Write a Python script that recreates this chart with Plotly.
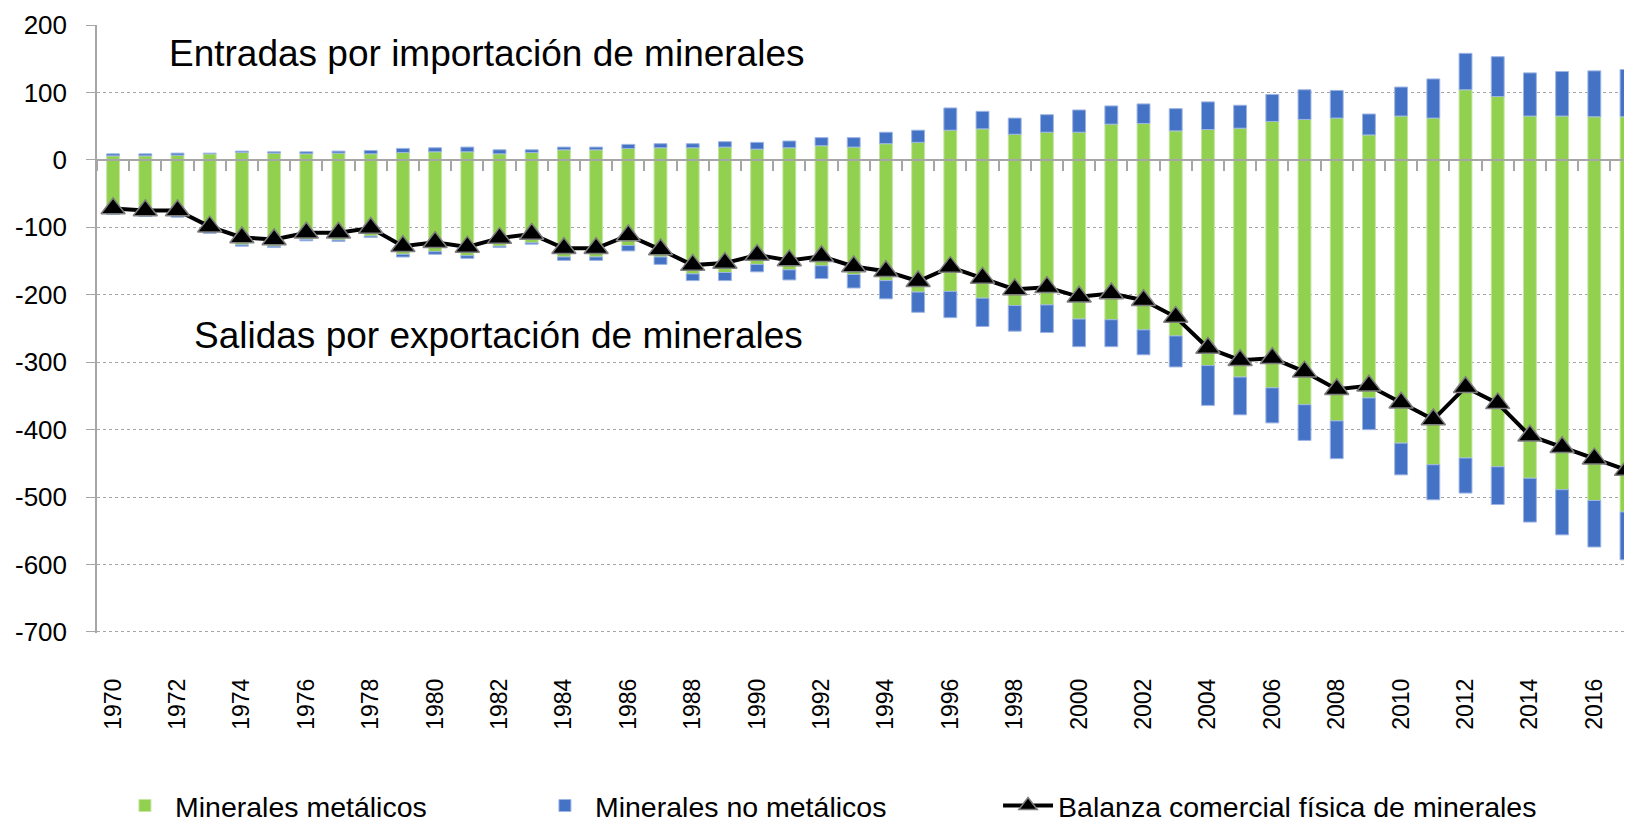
import plotly.graph_objects as go

# years 1970-2017
years = [str(y) for y in range(1970, 2018)]

# importaciones (positivas)
imp_metalicos = [6, 6, 7, 9, 11, 10, 9, 10, 9, 11, 12, 12, 9, 11, 15, 15,
                 17, 18, 18, 19, 16, 18, 21, 19, 24, 26, 44, 46, 38, 41, 41, 53,
                 54, 43, 45, 47, 57, 60, 62, 37, 65, 62, 104, 94, 65, 65, 64, 64]
imp_no_metalicos = [3, 3, 3, 1, 2, 2, 3, 3, 5, 6, 6, 7, 6, 4, 4, 4,
                    6, 6, 6, 8, 10, 10, 12, 14, 17, 18, 33, 26, 24, 26, 33, 27,
                    29, 33, 41, 34, 40, 44, 41, 31, 43, 58, 54, 59, 64, 66, 68, 70]

# exportaciones (magnitud, se dibujan negativas)
exp_metalicos = [79, 82, 83, 107, 126, 128, 118, 119, 113, 140, 136, 142, 128, 123, 144, 144,
                 127, 144, 169, 167, 155, 163, 157, 170, 179, 196, 195, 205, 216, 215, 236, 237,
                 252, 261, 305, 322, 338, 363, 387, 353, 420, 452, 442, 455, 472, 489, 505, 522]
exp_no_metalicos = [2, 2, 2, 2, 2, 2, 2, 2, 2, 4, 4, 4, 2, 2, 5, 5,
                    8, 11, 10, 12, 11, 15, 19, 20, 27, 30, 39, 42, 38, 41, 41, 40,
                    37, 46, 59, 56, 52, 53, 56, 47, 47, 52, 52, 56, 65, 67, 69, 71]

# balanza comercial fisica
balanza = [-72, -75, -75, -99, -115, -118, -108, -108, -101, -128, -122, -129, -116, -110, -131, -131,
           -112, -133, -156, -153, -141, -149, -143, -158, -165, -180, -159, -175, -192, -189, -203, -198,
           -208, -233, -279, -297, -294, -314, -340, -335, -360, -385, -337, -361, -409, -426, -443, -460]

# eje y
y_ticks = [200, 100, 0, -100, -200, -300, -400, -500, -600, -700]
y_labels = ['200', '100', '0', '-100', '-200', '-300', '-400', '-500', '-600', '-700']

VERDE = '#92D050'
AZUL = '#4472C4'
GRIS = '#A6A6A6'
ARIAL = "'Liberation Sans', Arial, sans-serif"

fig = go.Figure()
fig.add_trace(go.Bar(x=years, y=imp_metalicos, name='Minerales metálicos', legend='legend',
                     marker=dict(color=VERDE, line=dict(color='#C4E6A0', width=1))))
fig.add_trace(go.Bar(x=years, y=[-v for v in exp_metalicos], showlegend=False,
                     marker=dict(color=VERDE, line=dict(color='#C4E6A0', width=1))))
fig.add_trace(go.Bar(x=years, y=imp_no_metalicos, name='Minerales no metálicos', legend='legend2',
                     marker=dict(color=AZUL, line=dict(color='#9DB5E3', width=1))))
fig.add_trace(go.Bar(x=years, y=[-v for v in exp_no_metalicos], showlegend=False,
                     marker=dict(color=AZUL, line=dict(color='#9DB5E3', width=1))))
fig.add_trace(go.Scatter(x=years, y=balanza, mode='lines+markers', legend='legend3',
                         name='Balanza comercial física de minerales',
                         line=dict(color='black', width=4),
                         marker=dict(symbol='triangle-up', size=21, color='black',
                                     line=dict(color='#7F7F7F', width=1.5))))
# traza auxiliar para el eje en cero con marcas entre categorias
fig.add_trace(go.Scatter(x=years, y=balanza, xaxis='x2', mode='none',
                         showlegend=False, hoverinfo='skip'))

xr = [-0.5, 47.17]
y0_pos = 701.5 / 901.5
leg_font = dict(family=ARIAL, size=28.5, color='black')
leg_common = dict(orientation='h', y=-0.2845, yanchor='middle', xanchor='left',
                  font=leg_font, itemwidth=50, bgcolor='rgba(0,0,0,0)',
                  borderwidth=0)

fig.update_layout(
    width=1624, height=814,
    margin=dict(l=89, r=0, t=17, b=189, autoexpand=False),
    plot_bgcolor='white', paper_bgcolor='white',
    barmode='relative', bargap=0.6,
    font=dict(family=ARIAL, color='black'),
    xaxis=dict(type='category', categoryarray=years, range=xr,
               tickmode='array', tickvals=years[::2], tickangle=-90,
               tickfont=dict(family=ARIAL, size=23, color='black'),
               ticklabelstandoff=40, showgrid=False, showline=False, ticks='',
               automargin=False),
    xaxis2=dict(type='category', categoryarray=years, range=xr, overlaying='x',
                anchor='free', position=y0_pos, side='bottom',
                showticklabels=False, showgrid=False, showline=True,
                linecolor=GRIS, linewidth=2, ticks='outside', tickson='boundaries',
                ticklen=10, tickwidth=1.5, tickcolor=GRIS, automargin=False),
    yaxis=dict(range=[-701.5, 200], tickmode='array', tickvals=y_ticks, ticktext=y_labels,
               showgrid=True, gridcolor=GRIS, griddash='dot', gridwidth=1,
               zeroline=False, showline=True, linecolor=GRIS, linewidth=1.5,
               ticks='outside', ticklen=9, tickcolor=GRIS, ticklabelstandoff=14,
               tickfont=dict(family=ARIAL, size=26, color='black'), automargin=False),
    legend=dict(x=0.0117, **leg_common),
    legend2=dict(x=0.2853, **leg_common),
    legend3=dict(x=0.5870, **leg_common),
    annotations=[
        dict(text='Entradas por importación de minerales', xref='paper', yref='y',
             x=0.0456, y=158, xanchor='left', yanchor='middle', showarrow=False,
             font=dict(family=ARIAL, size=37, color='black')),
        dict(text='Salidas por exportación de minerales', xref='paper', yref='y',
             x=0.0622, y=-260, xanchor='left', yanchor='middle', showarrow=False,
             font=dict(family=ARIAL, size=37, color='black')),
    ],
)

fig.write_html("out.html")
